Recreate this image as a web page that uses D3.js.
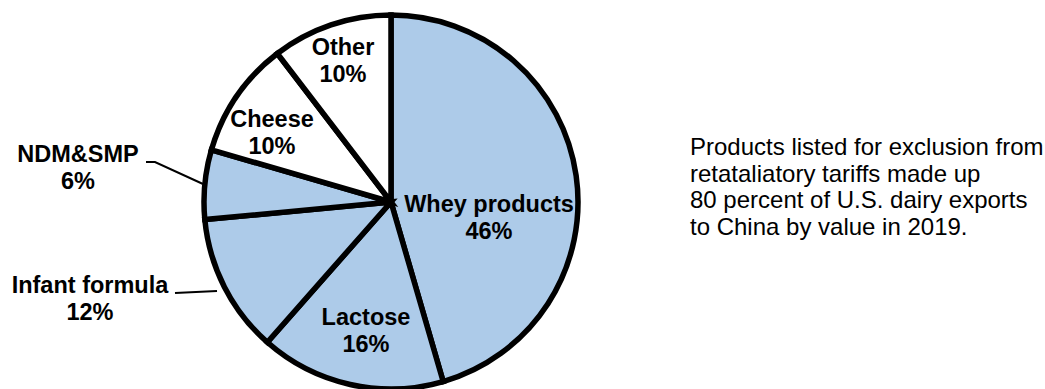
<!DOCTYPE html>
<html>
<head>
<meta charset="utf-8">
<script src="https://cdn.jsdelivr.net/npm/d3@7"></script>
<style>
  html, body { margin: 0; padding: 0; background: #fff; }
  svg { display: block; }
  text { font-family: "Liberation Sans", Arial, sans-serif; fill: #000; }
</style>
</head>
<body>
<svg id="chart" width="1045" height="389"></svg>
<script>
// ---- data ----
const categories = ["Whey products", "Lactose", "Infant formula", "NDM&SMP", "Cheese", "Other"];
// slice sizes (percent of value)
const shares = [45.5, 16.0, 12.0, 6.0, 10.1, 10.4];
// percentages as printed on the labels
const shareLabels = ["46%", "16%", "12%", "6%", "10%", "10%"];
const excluded = [true, true, true, true, false, false];
const noteLines = [
  "Products listed for exclusion from",
  "retataliatory tariffs made up",
  "80 percent of U.S. dairy exports",
  "to China by value in 2019."
];

// ---- layout ----
const cx = 391, cy = 202, R = 187;
const fillOn = "#adcbe9", fillOff = "#ffffff";
const labelFont = 23.5, noteFont = 24, lineGap = 27;
// label anchor (center x, first baseline y) per slice
const labelPos = [
  {x: 489, y: 212},
  {x: 366, y: 325},
  {x: 90,  y: 293, leader: [[175, 293], [217, 291]]},
  {x: 78,  y: 162, leader: [[146, 162], [155, 162], [203, 184]]},
  {x: 272, y: 127},
  {x: 343, y: 55}
];

const svg = d3.select("#chart");
const g = svg.append("g").attr("transform", `translate(${cx},${cy})`);

const pie = d3.pie().sort(null).value(d => d.v);
const data = categories.map((c, i) => ({c, v: shares[i], lab: shareLabels[i], on: excluded[i]}));
const arcs = pie(data);
const arc = d3.arc().innerRadius(0).outerRadius(R);

g.selectAll("path.slice")
  .data(arcs)
  .join("path")
  .attr("class", "slice")
  .attr("d", arc)
  .attr("fill", d => d.data.on ? fillOn : fillOff)
  .attr("stroke", "#000")
  .attr("stroke-width", 5.5)
  .attr("stroke-linejoin", "miter");

// leader lines
const line = d3.line();
labelPos.forEach(p => {
  if (p.leader) {
    svg.append("path")
      .attr("d", line(p.leader))
      .attr("fill", "none")
      .attr("stroke", "#000")
      .attr("stroke-width", 2);
  }
});

// labels
arcs.forEach((a, i) => {
  const p = labelPos[i];
  const t = svg.append("text")
    .attr("text-anchor", "middle")
    .attr("font-weight", "bold")
    .attr("font-size", labelFont);
  t.append("tspan").attr("x", p.x).attr("y", p.y).text(a.data.c);
  t.append("tspan").attr("x", p.x).attr("y", p.y + lineGap).text(a.data.lab);
});

// note text
const note = svg.append("text")
  .attr("font-size", noteFont)
  .attr("text-anchor", "start");
noteLines.forEach((s, i) => {
  note.append("tspan").attr("x", 690).attr("y", 155 + i * 26.7).text(s);
});
</script>
</body>
</html>
